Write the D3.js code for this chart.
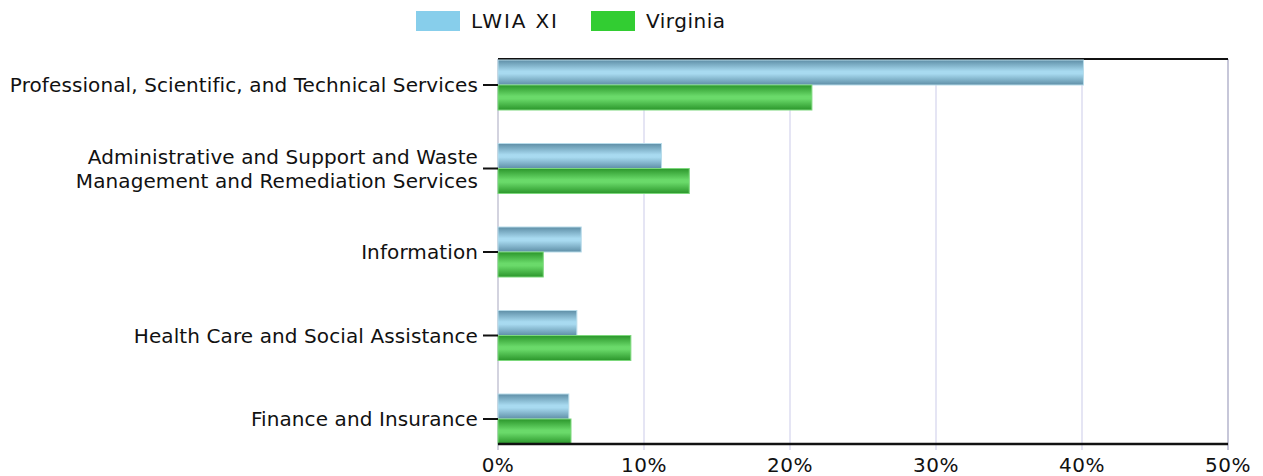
<!DOCTYPE html>
<html>
<head>
<meta charset="utf-8">
<script src="https://cdn.jsdelivr.net/npm/d3@7"></script>
<style>
  body { margin: 0; background: #fff; }
  text { font-family: "DejaVu Sans", Verdana, sans-serif; fill: #111; }
</style>
</head>
<body>
<div id="chart"></div>
<script>
// data
var categories = [
  ["Professional, Scientific, and Technical Services"],
  ["Administrative and Support and Waste", "Management and Remediation Services"],
  ["Information"],
  ["Health Care and Social Assistance"],
  ["Finance and Insurance"]
]
var seriesNames = ["LWIA XI", "Virginia"]
var lwia = [40.1, 11.2, 5.7, 5.4, 4.85]
var virginia = [21.5, 13.1, 3.1, 9.1, 5.0]
var ticks = [0, 10, 20, 30, 40, 50]

// graph sizes
let width = 1263
let height = 476
let plotLeft = 498, plotRight = 1228, plotTop = 59, plotBottom = 444

let svg = d3.select("#chart")
  .append("svg")
  .attr("width", width)
  .attr("height", height)

// gradients for the bars
var defs = svg.append("defs")
function grad(id, edge, mid) {
  var g = defs.append("linearGradient").attr("id", id)
    .attr("x1", 0).attr("y1", 0).attr("x2", 0).attr("y2", 1)
  g.append("stop").attr("offset", "0%").attr("stop-color", edge)
  g.append("stop").attr("offset", "45%").attr("stop-color", mid)
  g.append("stop").attr("offset", "55%").attr("stop-color", mid)
  g.append("stop").attr("offset", "100%").attr("stop-color", edge)
}
grad("gBlue", "#5e8ea6", "#a8daf0")
grad("gGreen", "#2b962b", "#6ada6a")

var x = d3.scaleLinear().domain([0, 50]).range([plotLeft, plotRight])
var y = d3.scalePoint()
  .domain(d3.range(categories.length))
  .range([85, 419])

// gridlines
svg.append("g").selectAll("line")
  .data(ticks.slice(1, -1))
  .enter().append("line")
  .attr("x1", d => x(d)).attr("x2", d => x(d))
  .attr("y1", plotTop).attr("y2", 450)
  .attr("stroke", "#dcdcf0").attr("stroke-width", 1.5)

// frame: left + right
svg.append("line")
  .attr("x1", plotLeft).attr("x2", plotLeft).attr("y1", plotTop).attr("y2", 450)
  .attr("stroke", "#c4c4d4").attr("stroke-width", 1.5)
svg.append("line")
  .attr("x1", plotRight).attr("x2", plotRight).attr("y1", plotTop).attr("y2", 450)
  .attr("stroke", "#b4b4cc").attr("stroke-width", 1.5)

// top line
svg.append("line")
  .attr("x1", plotLeft).attr("x2", plotRight).attr("y1", plotTop).attr("y2", plotTop)
  .attr("stroke", "#111").attr("stroke-width", 2)

// bars
var barH = 25
var series = [
  { vals: lwia, fill: "url(#gBlue)", stroke: "#b8dcea", off: -barH },
  { vals: virginia, fill: "url(#gGreen)", stroke: "#7cd87c", off: 0 }
]
series.forEach(function(s) {
  svg.append("g").selectAll("rect")
    .data(s.vals)
    .enter().append("rect")
    .attr("x", x(0))
    .attr("y", (d, i) => y(i) + s.off)
    .attr("width", d => x(d) - x(0))
    .attr("height", barH)
    .attr("fill", s.fill)
    .attr("stroke", s.stroke)
    .attr("stroke-width", 1)
})

// bottom axis line
svg.append("line")
  .attr("x1", plotLeft).attr("x2", plotRight).attr("y1", plotBottom).attr("y2", plotBottom)
  .attr("stroke", "#111").attr("stroke-width", 2.5)

// x tick labels
svg.append("g").selectAll("text")
  .data(ticks)
  .enter().append("text")
  .attr("x", d => x(d))
  .attr("y", 472)
  .attr("text-anchor", "middle")
  .style("font-size", "20px")
  .style("letter-spacing", "0.5px")
  .text(d => d + "%")

// category ticks and labels
var cat = svg.append("g").selectAll("g")
  .data(categories)
  .enter().append("g")
  .attr("transform", (d, i) => "translate(0," + y(i) + ")")
cat.append("line")
  .attr("x1", 483).attr("x2", plotLeft).attr("y1", 0).attr("y2", 0)
  .attr("stroke", "#111").attr("stroke-width", 2)
cat.append("text")
  .attr("text-anchor", "end")
  .style("font-size", "20px")
  .style("letter-spacing", "0.1px")
  .each(function(d) {
    var t = d3.select(this)
    var n = d.length
    d.forEach(function(line, j) {
      t.append("tspan")
        .attr("x", 478)
        .attr("y", (j - (n - 1) / 2) * 24 + 7)
        .text(line)
    })
  })

// legend
var legend = svg.append("g")
var lx = [416, 591]
var lw = [86, 79]
var lcol = ["#87ceeb", "#32cd32"]
seriesNames.forEach(function(name, i) {
  legend.append("rect")
    .attr("x", lx[i]).attr("y", 11)
    .attr("width", 44).attr("height", 20)
    .attr("fill", lcol[i])
  legend.append("text")
    .attr("x", lx[i] + 55).attr("y", 28)
    .attr("textLength", lw[i])
    .style("font-size", "20px")
    .text(name)
})
</script>
</body>
</html>
